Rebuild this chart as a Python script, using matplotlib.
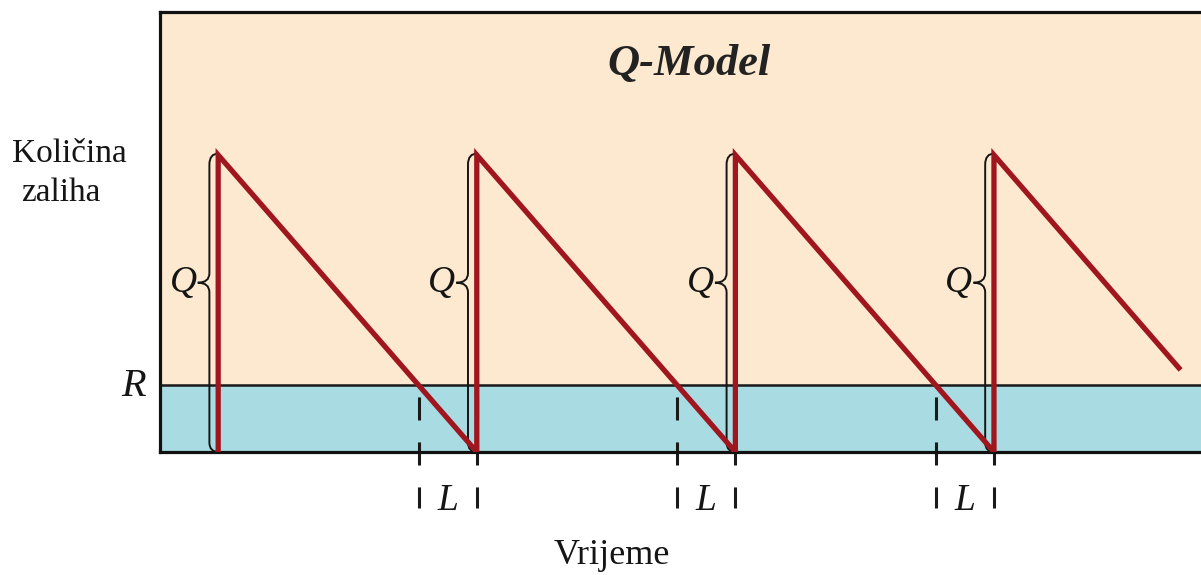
import numpy as np
import matplotlib
matplotlib.use('Agg')
import matplotlib.pyplot as plt
from matplotlib.path import Path
from matplotlib.patches import PathPatch

plt.rcParams['font.family'] = ['Liberation Serif', 'DejaVu Serif']
plt.rcParams['lines.scale_dashes'] = False

# inventory sawtooth (time in cycle units, stock in % of Q)
order_q = 100.0
reorder_r = 22.5
lead_time = 0.225
order_times = [0.225, 1.225, 2.225, 3.225]
saw_t = [0.225, 0.225, 1.225, 1.225, 2.225, 2.225, 3.225, 3.225, 3.94]
saw_y = [0, 100, 0, 100, 0, 100, 0, 100, 28.3]
arrival_times = [1.225, 2.225, 3.225]

peach = '#FCE9CF'
cyan = '#A9DCE2'
red = '#A0161F'
ink = '#151515'

W, H = 1201, 575


def fx(px):
    return px / W


def fy(py):
    return 1 - py / H


fig = plt.figure(figsize=(W / 100, H / 100), dpi=100)
ax = fig.add_axes([fx(160), fy(452), 1 - fx(160) + 0.002, 440 / H])
ax.set_xlim(0, 1041 / 258)
ax.set_ylim(0, 440 / 2.97)
ax.set_facecolor(peach)
ax.axhspan(0, reorder_r, color=cyan, zorder=0)
ax.axhline(reorder_r, color='#1a1a1a', lw=1.8, zorder=1)

for s in ['left', 'top', 'bottom']:
    ax.spines[s].set_linewidth(2.3)
    ax.spines[s].set_color('#111111')
ax.spines['right'].set_visible(False)
ax.set_xticks([])
ax.set_yticks([])

# lead time markers
for ta in arrival_times:
    for x in (ta - lead_time, ta):
        ax.plot([x, x], [reorder_r, -19], color='#1a1a1a', lw=2.2,
                ls=(23.8, (16.6, 15.8)), clip_on=False, zorder=2)
    ax.text(ta - lead_time / 2, -16.3, 'L', fontsize=27, fontstyle='italic',
            ha='center', va='center', color=ink)

# braces marking Q
dx = 0.036
dy = 3.2
tdx = 0.045
for t0 in order_times:
    xl = t0 - 0.034
    tip = order_q * 0.57
    verts = [(xl + dx, order_q + 0.5), (xl, order_q + 0.5), (xl, order_q - dy),
             (xl, tip + dy),
             (xl, tip), (xl - tdx, tip),
             (xl, tip), (xl, tip - dy),
             (xl, dy),
             (xl, 0), (xl + dx, 0)]
    codes = [Path.MOVETO, Path.CURVE3, Path.CURVE3,
             Path.LINETO,
             Path.CURVE3, Path.CURVE3,
             Path.CURVE3, Path.CURVE3,
             Path.LINETO,
             Path.CURVE3, Path.CURVE3]
    ax.add_patch(PathPatch(Path(verts, codes), fill=False, lw=1.4,
                           color=ink, zorder=3))
    ax.text(xl - tdx - 0.004, tip, 'Q', fontsize=27, fontstyle='italic',
            ha='right', va='center', color=ink)

ax.plot(saw_t, saw_y, color=red, lw=3.8, solid_joinstyle='miter', zorder=4)

fig.text(fx(689), fy(75), 'Q-Model', fontsize=32, fontstyle='italic',
         fontweight='bold', ha='center', va='baseline', color='#222222')
fig.text(fx(134), fy(387), 'R', fontsize=29, fontstyle='italic',
         ha='center', va='center', color=ink)
fig.text(fx(69), fy(162), 'Količina', fontsize=24,
         ha='center', va='baseline', color=ink)
fig.text(fx(61), fy(201), 'zaliha', fontsize=24,
         ha='center', va='baseline', color=ink)
fig.text(fx(612), fy(564), 'Vrijeme', fontsize=26,
         ha='center', va='baseline', color=ink)

fig.savefig('out.png', dpi=100)
